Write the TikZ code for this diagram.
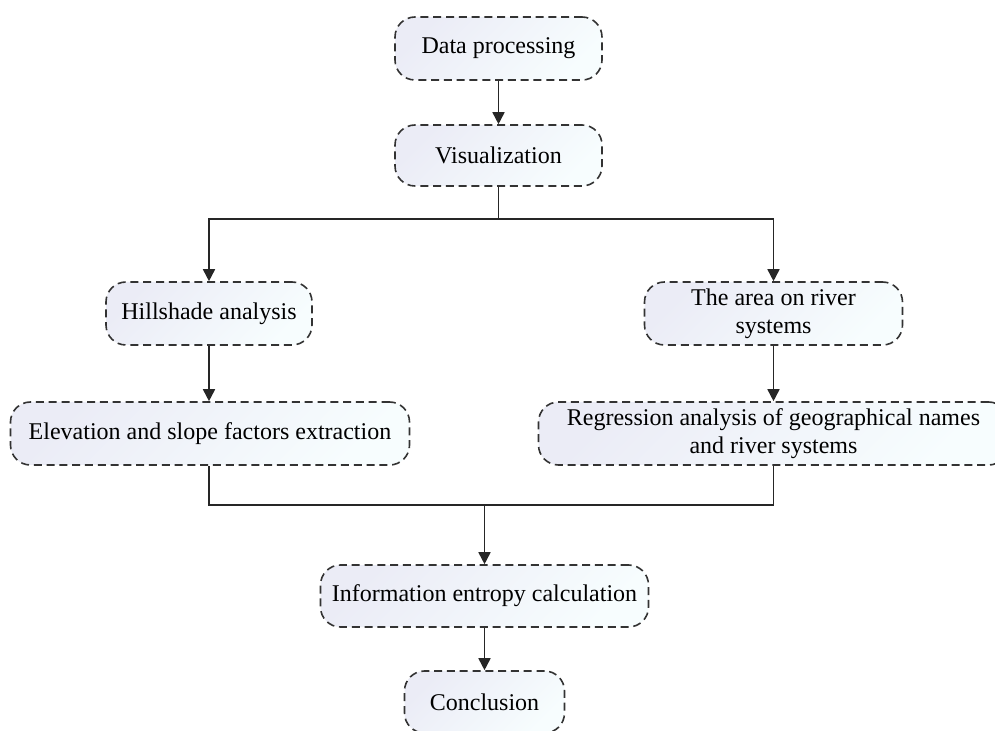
\documentclass[tikz,border=0pt]{standalone}
\usepackage{fontspec}
\setmainfont{Liberation Serif}
\usetikzlibrary{arrows.meta}

\definecolor{boxline}{HTML}{333333}
\definecolor{boxtop}{HTML}{EBECF6}
\definecolor{boxbottom}{HTML}{F7FDFE}
\definecolor{linkline}{HTML}{262626}

\tikzset{
  stepbox/.style = {draw = boxline, line width = 0.8pt, dash pattern = on 4pt off 2.4pt,
    rounded corners = 10pt, top color = boxtop, bottom color = boxbottom, shading angle = 45,
    minimum height = 31.5pt, inner sep = 0pt, align = center,
    font = \fontsize{12}{14}\selectfont},
  link/.style = {draw = linkline, line width = 0.85pt},
  >={Triangle[length = 6pt, width = 6pt]}
}

\begin{document}
\begin{tikzpicture}[x = 0.5pt, y = -0.5pt]
    \clip (0, 0) rectangle (995, 731);
    \fill[white] (0, 0) rectangle (995, 731);
    \node[stepbox, minimum width = 103.5pt] (data processing) at (498.5, 48.5) {Data processing};
    \node[stepbox, minimum width = 103.5pt, minimum height = 30.5pt] (visualization) at (498.5, 155.5) {Visualization};
    \node[stepbox, minimum width = 103pt] (hillshade analysis) at (209, 313.5) {Hillshade analysis};
    \node[stepbox, minimum width = 129pt] (river area) at (773.5, 313.5) {The area on river \\ systems};
    \node[stepbox, minimum width = 199.5pt] (elevation slope) at (210, 433.5) {Elevation and slope factors extraction};
    \node[stepbox, minimum width = 235pt] (regression analysis) at (773.5, 433.5) {Regression analysis of geographical names \\ and river systems};
    \node[stepbox, minimum width = 164pt, minimum height = 31pt] (entropy calculation) at (484.5, 596) {Information entropy calculation};
    \node[stepbox, minimum width = 80pt, minimum height = 31pt] (conclusion) at (484.5, 702) {Conclusion};
    \coordinate (upper split) at (498.5, 219);
    \coordinate (lower split) at (484.5, 505);
    \draw[link, ->] (data processing) -- (visualization);
    \draw[link] (visualization) -- (upper split);
    \draw[link, ->] (upper split) -| (hillshade analysis);
    \draw[link, ->] (upper split) -| (river area);
    \draw[link, ->] (hillshade analysis) -- (hillshade analysis |- elevation slope.north);
    \draw[link, ->] (river area) -- (regression analysis);
    \draw[link] (hillshade analysis |- elevation slope.south) |- (lower split);
    \draw[link] (regression analysis) |- (lower split);
    \draw[link, ->] (lower split) -- (entropy calculation);
    \draw[link, ->] (entropy calculation) -- (conclusion);
\end{tikzpicture}
\end{document}
